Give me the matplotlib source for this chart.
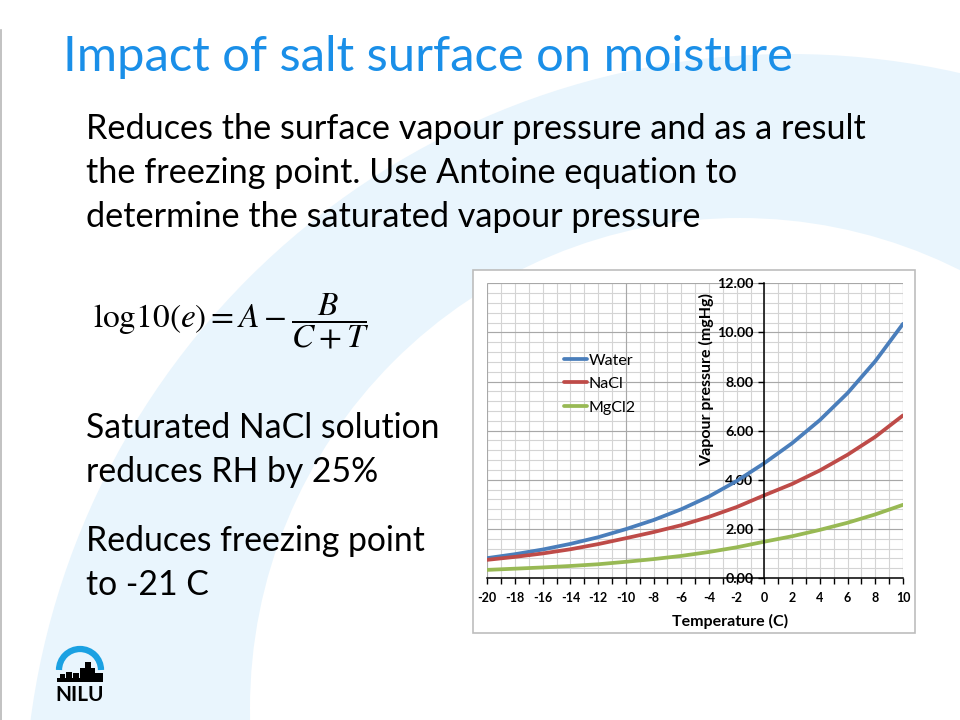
import matplotlib
matplotlib.use('Agg')
import matplotlib.pyplot as plt
import numpy as np
from matplotlib.patches import Circle, Rectangle, Arc

plt.rcParams['font.family'] = ['Lato', 'DejaVu Sans']
plt.rcParams['mathtext.fontset'] = 'stix'
plt.rcParams['axes.unicode_minus'] = False

# values (mmHg)
temperature = [-20, -18, -16, -14, -12, -10, -8, -6, -4, -2, 0, 2, 4, 6, 8, 10]
water = [0.81, 0.97, 1.16, 1.39, 1.66, 1.99, 2.36, 2.80, 3.32, 3.95, 4.68, 5.49, 6.43, 7.53, 8.83, 10.35]
nacl = [0.74, 0.86, 1.00, 1.17, 1.38, 1.62, 1.87, 2.15, 2.49, 2.89, 3.37, 3.83, 4.38, 5.02, 5.75, 6.62]
mgcl2 = [0.33, 0.38, 0.43, 0.49, 0.56, 0.66, 0.77, 0.90, 1.06, 1.25, 1.48, 1.70, 1.96, 2.25, 2.59, 2.98]
series_names = ['Water', 'NaCl', 'MgCl2']
series_colors = ['#4a7ebb', '#be4b48', '#98b954']

xtick_values = list(range(-20, 11, 2))
ytick_values = [0, 2, 4, 6, 8, 10, 12]
ytick_labels = ['0.00', '2.00', '4.00', '6.00', '8.00', '10.00', '12.00']

title = 'Impact of salt surface on moisture'
body_lines = ['Reduces the surface vapour pressure and as a result',
              'the freezing point. Use Antoine equation to',
              'determine the saturated vapour pressure']
side_lines = ['Saturated NaCl solution', 'reduces RH by 25%',
              'Reduces freezing point', 'to -21 C']

fig = plt.figure(figsize=(9.6, 7.2), dpi=100)

# slide background in pixel coordinates
bg = fig.add_axes([0, 0, 1, 1])
bg.set_xlim(0, 960)
bg.set_ylim(720, 0)
bg.axis('off')
pale = '#e9f5fd'
bg.add_patch(Circle((790, 820), 766, color=pale, lw=0, zorder=0))
bg.add_patch(Circle((740, 708), 490, color='white', lw=0, zorder=0.1))
bg.plot([1, 1], [30, 720], color='#b8b8b8', lw=1.2)

bg.text(63, 71, title, fontsize=35.3, color='#1a8fe8', va='baseline', ha='left')
for i, line in enumerate(body_lines):
    bg.text(86, 139 + 44 * i, line, fontsize=24.7, color='black', va='baseline')
for line, yb in zip(side_lines, [438, 482, 551, 595]):
    bg.text(86, yb, line, fontsize=24.3, color='black', va='baseline')

bg.text(93, 321, r'$\mathrm{log10}(e) = A - \dfrac{B}{C+T}$', fontsize=24,
        va='center', ha='left')

# NILU logo
bg.add_patch(Arc((80, 670), 42, 42, theta1=180, theta2=360, color='#1ba1e2', lw=4.5))
for x0, w, top in [(57, 46, 678), (60, 5, 674), (66, 6, 672), (73, 6, 673),
                   (80, 5, 668), (85, 6, 662), (91, 4, 668), (95, 8, 673)]:
    bg.add_patch(Rectangle((x0, top), w, 682 - top, color='black', lw=0))
bg.text(80, 701, 'NILU', fontsize=15, fontweight='bold', ha='center', va='baseline')

# chart frame
bg.add_patch(Rectangle((473, 270), 442, 363, facecolor='white', edgecolor='#bdbdbd',
                       lw=1.2, zorder=2))

ax = fig.add_axes([487.3 / 960, (720 - 578) / 720, (903 - 487.3) / 960, (578 - 283.3) / 720])
ax.set_facecolor('white')
ax.set_xlim(-20, 10)
ax.set_ylim(0, 12)

ax.vlines(np.arange(-20, 11, 1), 0, 12, color='#d4d4d4', lw=0.8, zorder=0)
ax.hlines(np.arange(0, 12.01, 0.4), -20, 10, color='#d4d4d4', lw=0.8, zorder=0)
ax.hlines(ytick_values, -20, 10, color='#a8a8a8', lw=0.8, zorder=0.5)
ax.vlines([-20, -10, 10], 0, 12, color='#a8a8a8', lw=0.8, zorder=0.5)

for vals, name, col in zip([water, nacl, mgcl2], series_names, series_colors):
    ax.plot(temperature, vals, color=col, lw=2.7, label=name, solid_capstyle='round')

for side in ['top', 'right']:
    ax.spines[side].set_visible(False)
ax.spines['left'].set_position(('data', 0))
ax.spines['left'].set_linewidth(1.1)
ax.spines['bottom'].set_linewidth(1.1)

ax.set_xticks(xtick_values)
ax.set_xticks(range(-20, 11), minor=True)
ax.set_yticks(ytick_values)
ax.set_yticklabels(ytick_labels)
ax.tick_params(axis='x', which='both', direction='out', length=4, width=1, pad=6,
               labelsize=9)
ax.tick_params(axis='y', direction='out', length=4, width=1, pad=4, labelsize=10.3)
for lab in ax.get_xticklabels() + ax.get_yticklabels():
    lab.set_fontweight('bold')

ax.text((730 - 487.3) / 415.7, (578 - 621) / 294.7, 'Temperature (C)', transform=ax.transAxes,
        fontsize=11.5, fontweight='bold', ha='center', va='center')
ax.text((707 - 487.3) / 415.7, (578 - 380) / 294.7, 'Vapour pressure (mgHg)', transform=ax.transAxes,
        fontsize=11.5, fontweight='bold', ha='center', va='center', rotation=90)

ax.legend(loc='upper left', bbox_to_anchor=(0.185, 0.762), frameon=False, fontsize=11.5,
          handlelength=1.4, handletextpad=0.15, labelspacing=0.58, borderpad=0,
          borderaxespad=0)

fig.savefig('out.png', dpi=100)
